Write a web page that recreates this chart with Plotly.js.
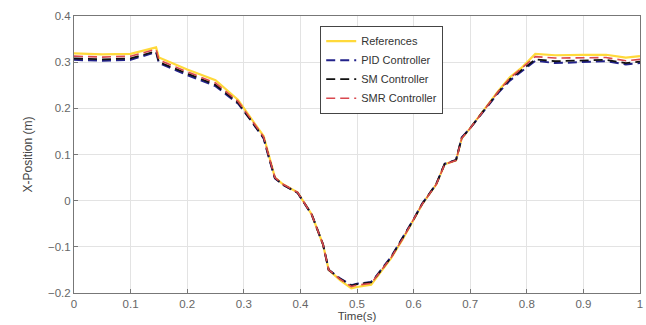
<!DOCTYPE html>
<html><head><meta charset="utf-8">
<script src="https://cdn.plot.ly/plotly-3.0.1.min.js"></script>
<style>html,body{margin:0;padding:0;background:#fff}#chart{width:646px;height:325px}</style>
</head><body><div id="chart"></div>
<script>
const time = [0, 0.05, 0.1, 0.145, 0.15, 0.2, 0.25, 0.29, 0.31, 0.335, 0.345, 0.355, 0.37, 0.395, 0.42, 0.44, 0.45, 0.47, 0.49, 0.5, 0.525, 0.535, 0.56, 0.58, 0.6, 0.615, 0.64, 0.655, 0.675, 0.685, 0.7, 0.72, 0.75, 0.77, 0.79, 0.815, 0.85, 0.9, 0.94, 0.975, 1.0];
const reference = [0.319, 0.317, 0.318, 0.332, 0.31, 0.284, 0.261, 0.218, 0.183, 0.14, 0.095, 0.05, 0.035, 0.018, -0.03, -0.095, -0.15, -0.172, -0.19, -0.187, -0.182, -0.165, -0.125, -0.085, -0.042, -0.008, 0.035, 0.079, 0.087, 0.135, 0.157, 0.19, 0.238, 0.267, 0.287, 0.318, 0.315, 0.316, 0.316, 0.31, 0.313];
const pid = [0.305, 0.303, 0.305, 0.322, 0.298, 0.272, 0.248, 0.21, 0.178, 0.135, 0.09, 0.048, 0.034, 0.017, -0.03, -0.095, -0.15, -0.168, -0.183, -0.18, -0.176, -0.162, -0.122, -0.082, -0.04, -0.007, 0.036, 0.08, 0.088, 0.137, 0.157, 0.188, 0.234, 0.26, 0.28, 0.303, 0.298, 0.3, 0.302, 0.295, 0.298];
const sm = [0.308, 0.306, 0.308, 0.324, 0.3, 0.275, 0.251, 0.212, 0.179, 0.136, 0.091, 0.049, 0.034, 0.017, -0.03, -0.095, -0.15, -0.169, -0.184, -0.181, -0.177, -0.163, -0.123, -0.083, -0.041, -0.007, 0.036, 0.08, 0.088, 0.136, 0.157, 0.189, 0.236, 0.263, 0.283, 0.306, 0.302, 0.304, 0.305, 0.298, 0.301];
const smr = [0.313, 0.311, 0.313, 0.328, 0.305, 0.279, 0.255, 0.215, 0.181, 0.138, 0.093, 0.05, 0.035, 0.018, -0.03, -0.095, -0.15, -0.17, -0.186, -0.183, -0.179, -0.164, -0.124, -0.084, -0.041, -0.008, 0.035, 0.079, 0.087, 0.135, 0.157, 0.19, 0.237, 0.265, 0.285, 0.312, 0.309, 0.31, 0.31, 0.303, 0.306];
const names = ['References', 'PID Controller', 'SM Controller', 'SMR Controller'];

const traces = [
  {x: time, y: reference, name: names[0], mode: 'lines', line: {color: '#ffd93a', width: 2.2}},
  {x: time, y: pid, name: names[1], mode: 'lines', line: {color: '#22228a', width: 2, dash: '9px,5px'}},
  {x: time, y: sm, name: names[2], mode: 'lines', line: {color: '#111111', width: 1.8, dash: '9px,5px'}},
  {x: time, y: smr, name: names[3], mode: 'lines', line: {color: '#d9484f', width: 1.6, dash: '9px,5px'}}
];
const fam = 'Liberation Sans, Arial, sans-serif';
const axisFont = {family: fam, size: 11.5, color: '#666'};
const layout = {
  width: 646, height: 325,
  margin: {l: 74, r: 6, t: 16, b: 32},
  paper_bgcolor: '#fff', plot_bgcolor: '#fff',
  showlegend: true,
  legend: {x: 0.435, y: 0.965, xanchor: 'left', yanchor: 'top', bgcolor: '#fff', bordercolor: '#444', borderwidth: 1,
    font: {family: fam, size: 11, color: '#333'}, tracegroupgap: 0, entrywidth: 160, entrywidthmode: 'pixels'},
  xaxis: {range: [0, 1], dtick: 0.1, showgrid: true, gridcolor: '#e3e3e3', zeroline: false,
    showline: true, linecolor: '#777', mirror: true, ticks: 'inside', ticklen: 4, tickcolor: '#777',
    tickfont: axisFont, title: {text: 'Time(s)', font: {family: fam, size: 11.5, color: '#444'}, standoff: 2}},
  yaxis: {range: [-0.2, 0.4], dtick: 0.1, showgrid: true, gridcolor: '#e3e3e3', zeroline: false,
    showline: true, linecolor: '#777', mirror: true, ticks: 'inside', ticklen: 4, tickcolor: '#777',
    tickfont: axisFont, title: {text: 'X-Position (m)', font: {family: fam, size: 12, color: '#444'}, standoff: 12}}
};
Plotly.newPlot('chart', traces, layout, {displayModeBar: false, staticPlot: true});
</script></body></html>
